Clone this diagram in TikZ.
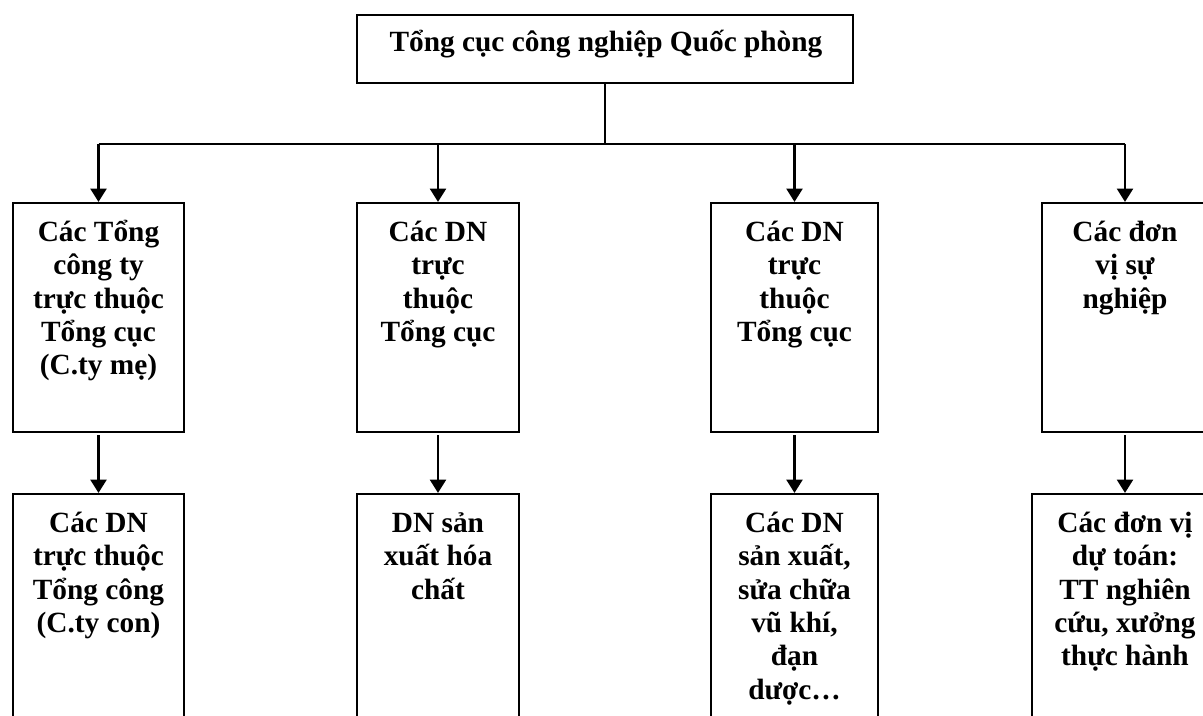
\documentclass[tikz,border=0pt]{standalone}
\usepackage{fontspec}
\setmainfont{Liberation Serif}
\usetikzlibrary{arrows.meta,fit}
\setlength{\lineskiplimit}{-100pt}
\begin{document}
\begin{tikzpicture}[x=0.75pt,y=-0.75pt,
  box/.style={draw, line width=1.6pt, inner sep=0pt},
  lbl/.style={font=\fontsize{22}{25}\selectfont\bfseries, align=center, inner sep=0pt, anchor=north},
  link/.style={line width=1.4pt},
  arr/.style={line width=1.8pt, -{Triangle[length=10pt,width=12pt]}}]
\useasboundingbox (0,0) rectangle (1203,716);
\fill[white] (0,0) rectangle (1203,716);
\clip (0,0) rectangle (1203,716);
% top
\node[box, fit={(357,15) (853,83)}] (top) {};
\node[lbl, anchor=base] (ttop) at (606,52) {Tổng cục công nghiệp Quốc phòng};
% row 1 boxes
\node[box, fit={(13,203) (184,432)}] (b11) {};
\node[box, fit={(357,203) (519,432)}] (b12) {};
\node[box, fit={(711,203) (878,432)}] (b13) {};
\node[box, fit={(1042,203) (1208,432)}] (b14) {};
% row 2 boxes
\node[box, fit={(13,494) (184,730)}] (b21) {};
\node[box, fit={(357,494) (519,730)}] (b22) {};
\node[box, fit={(711,494) (878,730)}] (b23) {};
\node[box, fit={(1032,494) (1218,730)}] (b24) {};
% texts
\node[lbl] (t11) at ([yshift=-9.5pt]b11.north) {\rule{0pt}{20pt}Các Tổng\\công ty\\trực thuộc\\Tổng cục\\(C.ty mẹ)};
\node[lbl] (t12) at ([yshift=-9.5pt]b12.north) {\rule{0pt}{20pt}Các DN\\trực\\thuộc\\Tổng cục};
\node[lbl] (t13) at ([yshift=-9.5pt]b13.north) {\rule{0pt}{20pt}Các DN\\trực\\thuộc\\Tổng cục};
\node[lbl] (t14) at ([yshift=-9.5pt]b14.north) {\rule{0pt}{20pt}Các đơn\\vị sự\\nghiệp};
\node[lbl] (t21) at ([yshift=-9.5pt]b21.north) {\rule{0pt}{20pt}Các DN\\trực thuộc\\Tổng công\\(C.ty con)};
\node[lbl] (t22) at ([yshift=-9.5pt]b22.north) {\rule{0pt}{20pt}DN sản\\xuất hóa\\chất};
\node[lbl] (t23) at ([yshift=-9.5pt]b23.north) {\rule{0pt}{20pt}Các DN\\sản xuất,\\sửa chữa\\vũ khí,\\đạn\\dược…};
\node[lbl] (t24) at ([yshift=-9.5pt]b24.north) {\rule{0pt}{20pt}Các đơn vị\\dự toán:\\TT nghiên\\cứu, xưởng\\thực hành};
% connectors
\coordinate (j) at (605,144);
\draw[link] (top.south) -- (j);
\draw[link] (b11.north |- j) -- (b14.north |- j);
\draw[arr] (b11.north |- j) -- (b11.north);
\draw[arr] (b12.north |- j) -- (b12.north);
\draw[arr] (b13.north |- j) -- (b13.north);
\draw[arr] (b14.north |- j) -- (b14.north);
\draw[arr, shorten <=1.5pt] (b11.south) -- (b21.north);
\draw[arr, shorten <=1.5pt] (b12.south) -- (b22.north);
\draw[arr, shorten <=1.5pt] (b13.south) -- (b23.north);
\draw[arr, shorten <=1.5pt] (b14.south) -- (b24.north);
\end{tikzpicture}
\end{document}
